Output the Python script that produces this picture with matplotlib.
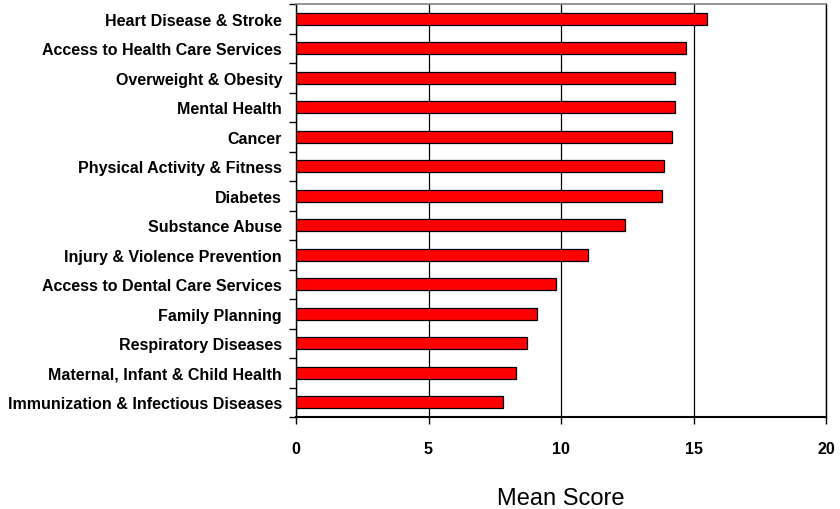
import matplotlib
matplotlib.use("Agg")
import matplotlib.pyplot as plt
import numpy as np

categories = [
    "Heart Disease & Stroke",
    "Access to Health Care Services",
    "Overweight & Obesity",
    "Mental Health",
    "Cancer",
    "Physical Activity & Fitness",
    "Diabetes",
    "Substance Abuse",
    "Injury & Violence Prevention",
    "Access to Dental Care Services",
    "Family Planning",
    "Respiratory Diseases",
    "Maternal, Infant & Child Health",
    "Immunization & Infectious Diseases",
]
values = [15.5, 14.7, 14.3, 14.3, 14.2, 13.9, 13.8, 12.4, 11.0, 9.8, 9.1, 8.7, 8.3, 7.8]
x_ticks = [0, 5, 10, 15, 20]

plt.rcParams['font.family'] = ['Liberation Sans', 'DejaVu Sans']

fig = plt.figure(figsize=(8.4, 5.1), dpi=100)
ax = fig.add_axes([296/840, 1 - 418/510, (826-296)/840, (418-5)/510])

n = len(categories)
ypos = np.arange(n)[::-1]
ax.barh(ypos, values, height=0.42, color="#FF0000", edgecolor="black", linewidth=0.9, zorder=3)

ax.set_xlim(0, 20)
ax.set_ylim(-0.5, n - 0.5)
ax.set_xticks(x_ticks)
ax.set_xticklabels([str(t) for t in x_ticks], fontsize=11.5, fontweight="bold")
ax.tick_params(axis="x", direction="out", length=5, width=1, pad=12, colors="black")

ax.set_yticks(ypos)
ax.set_yticklabels(categories, fontsize=11.5, fontweight="bold")
ax.tick_params(axis="y", which="major", length=0, pad=10)
ax.set_yticks(np.arange(-0.5, n, 1.0), minor=True)
ax.tick_params(axis="y", which="minor", direction="out", length=5, width=1, color="black")

ax.xaxis.grid(True, color="black", linewidth=0.9, zorder=0)
ax.set_axisbelow(True)

ax.spines["top"].set_color("#808080")
ax.spines["top"].set_linewidth(1.2)
ax.spines["right"].set_color("black")
ax.spines["right"].set_linewidth(1.0)
ax.spines["left"].set_color("black")
ax.spines["left"].set_linewidth(1.0)
ax.spines["bottom"].set_color("black")
ax.spines["bottom"].set_linewidth(1.5)

fig.text(561/840, 1 - 499/510, "Mean Score", ha="center", va="center", fontsize=17)

fig.savefig("out.png", dpi=100)
